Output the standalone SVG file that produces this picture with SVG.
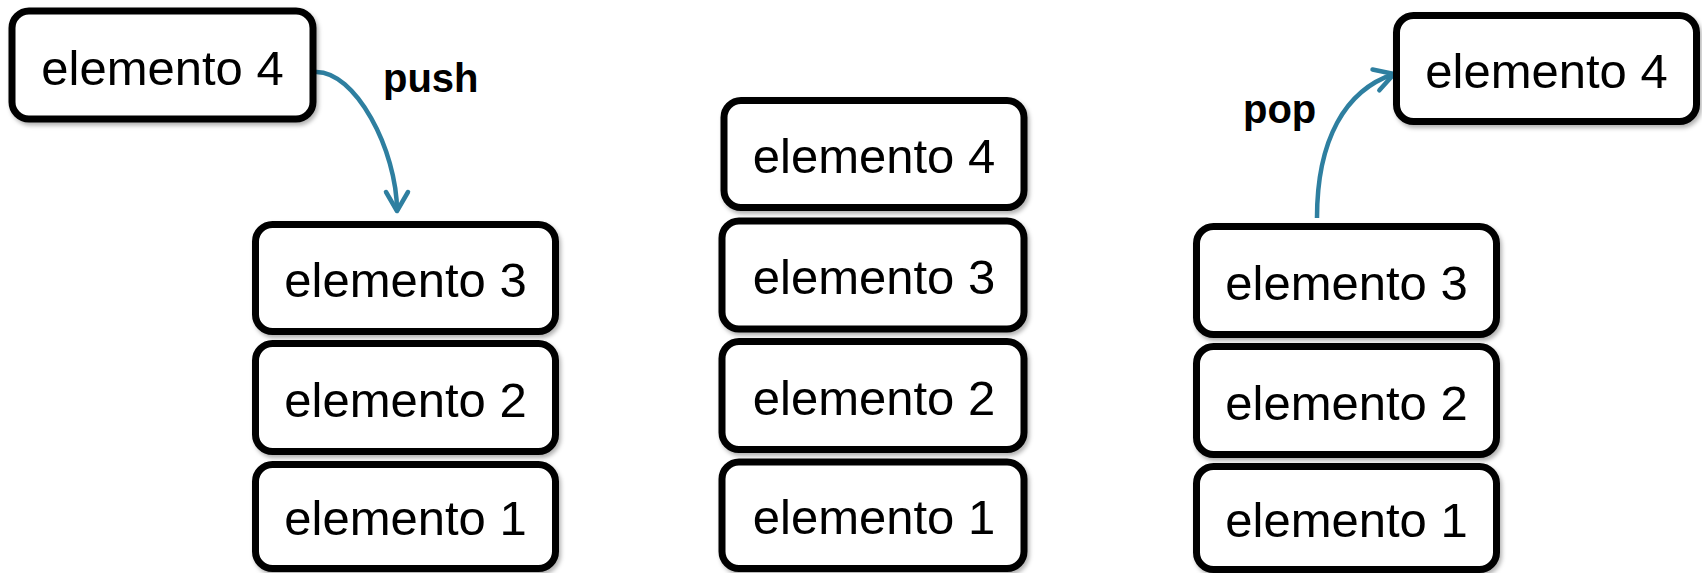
<svg xmlns="http://www.w3.org/2000/svg" width="1702" height="573" viewBox="0 0 1702 573">
<style>
.box{fill:#fff;stroke:#000;stroke-width:7;filter:url(#sh)}
.lbl{font-family:"Liberation Sans",Arial,sans-serif;font-size:49px;fill:#000;text-anchor:middle}
.op{font-family:"Liberation Sans",Arial,sans-serif;font-size:40px;font-weight:bold;fill:#000}
.arr{fill:none;stroke:#2E7FA0;stroke-width:4.5;marker-end:url(#chev)}
</style>
<defs>
<filter id="sh" x="-10%" y="-10%" width="125%" height="130%">
<feDropShadow dx="2" dy="3" stdDeviation="2" flood-color="#000" flood-opacity="0.3"/>
</filter>
<marker id="chev" markerUnits="userSpaceOnUse" viewBox="-22 -14 26 28" refX="0" refY="0" markerWidth="26" markerHeight="28" orient="auto" overflow="visible">
<path d="M-19,-11 L0,0 L-19,11" fill="none" stroke="#2E7FA0" stroke-width="4.5" stroke-linecap="round" stroke-linejoin="round"/>
</marker>
</defs>
<rect width="1702" height="573" fill="#fff"/>
<g id="connectors">
<path class="arr" d="M315,72 C355,70 397,150 397,211"/>
<path class="arr" d="M1317,218 C1317,140 1345,90 1394,74"/>
</g>
<g id="push-label"><text class="op" x="383" y="92">push</text></g>
<g id="pop-label"><text class="op" x="1243" y="123">pop</text></g>
<g id="push-elem4"><rect class="box" x="12" y="11" width="301" height="108" rx="17"/><text class="lbl" x="162.5" y="85">elemento 4</text></g>
<g id="l-elem3"><rect class="box" x="255.5" y="224.5" width="300" height="107" rx="17"/><text class="lbl" x="405.5" y="297">elemento 3</text></g>
<g id="l-elem2"><rect class="box" x="255.5" y="343.5" width="300" height="108" rx="17"/><text class="lbl" x="405.5" y="416.5">elemento 2</text></g>
<g id="l-elem1"><rect class="box" x="255.5" y="464.5" width="300" height="104" rx="17"/><text class="lbl" x="405.5" y="535">elemento 1</text></g>
<g id="m-elem4"><rect class="box" x="724" y="100.5" width="300" height="107" rx="17"/><text class="lbl" x="874" y="173">elemento 4</text></g>
<g id="m-elem3"><rect class="box" x="722" y="221" width="302" height="108" rx="17"/><text class="lbl" x="874" y="294">elemento 3</text></g>
<g id="m-elem2"><rect class="box" x="722" y="341.5" width="302" height="108" rx="17"/><text class="lbl" x="874" y="414.5">elemento 2</text></g>
<g id="m-elem1"><rect class="box" x="722" y="462" width="302" height="106.5" rx="17"/><text class="lbl" x="874" y="534">elemento 1</text></g>
<g id="r-elem3"><rect class="box" x="1196.5" y="226.5" width="300" height="108" rx="17"/><text class="lbl" x="1346.5" y="299.5">elemento 3</text></g>
<g id="r-elem2"><rect class="box" x="1196.5" y="346.5" width="300" height="108" rx="17"/><text class="lbl" x="1346.5" y="419.5">elemento 2</text></g>
<g id="r-elem1"><rect class="box" x="1196.5" y="466.5" width="300" height="103" rx="17"/><text class="lbl" x="1346.5" y="537">elemento 1</text></g>
<g id="pop-elem4"><rect class="box" x="1396.5" y="15.5" width="300" height="106" rx="17"/><text class="lbl" x="1546.5" y="87.5">elemento 4</text></g>
</svg>
